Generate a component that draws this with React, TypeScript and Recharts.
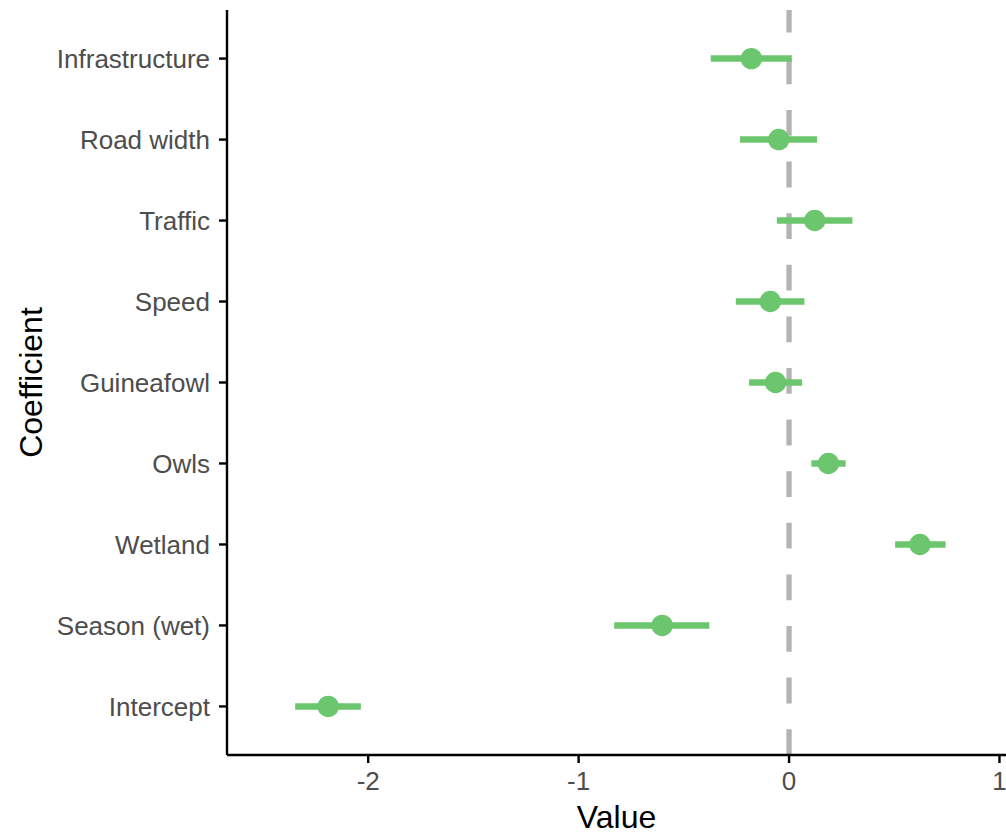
import React from 'react';
import { ScatterChart, Scatter, XAxis, YAxis, ErrorBar, ReferenceLine, Label } from 'recharts';

// Bottom-to-top order (as in the original factor order)
const coefficients = ['Intercept', 'Season (wet)', 'Wetland', 'Owls', 'Guineafowl', 'Speed', 'Traffic', 'Road width', 'Infrastructure'];
const estimates = [-2.19, -0.603, 0.622, 0.187, -0.064, -0.089, 0.122, -0.049, -0.179];
const lowerCI = [-2.347, -0.831, 0.504, 0.106, -0.19, -0.253, -0.058, -0.233, -0.372];
const upperCI = [-2.035, -0.379, 0.744, 0.269, 0.062, 0.073, 0.301, 0.133, 0.013];
const xTicks = [-2, -1, 0, 1];
const yTicks = coefficients.map((_, i) => i + 1);

const data = coefficients.map((name, i) => ({
  name,
  pos: i + 1,
  est: estimates[i],
  err: [estimates[i] - lowerCI[i], upperCI[i] - estimates[i]],
}));

const GREEN = '#6BC66E';
const TICK_COLOR = '#4D4D4D';

const Dot = (props: any) => {
  const { cx, cy } = props;
  if (cx == null || cy == null) return null;
  return <circle cx={cx} cy={cy} r={10.7} fill={GREEN} />;
};

const YTitle = (props: any) => {
  const vb = props.viewBox || {};
  const cy = vb.y + vb.height / 2;
  const x = 42;
  return (
    <text x={x} y={cy} transform={`rotate(-90, ${x}, ${cy})`} textAnchor="middle" fontSize={32} fill="#000">
      Coefficient
    </text>
  );
};

export default function App() {
  return (
    <div style={{ position: 'absolute', left: 0, top: 0, fontFamily: '"Liberation Sans", Arial, sans-serif', background: '#fff' }}>
      <ScatterChart width={1006} height={835} margin={{ top: 10, right: 0, bottom: 0, left: 0 }}>
        <XAxis
          type="number"
          dataKey="est"
          domain={[-2.671, 1.031]}
          allowDataOverflow
          ticks={xTicks}
          interval={0}
          height={80}
          tickSize={8}
          tickMargin={8.5}
          axisLine={{ stroke: '#000', strokeWidth: 2.4 }}
          tickLine={{ stroke: '#000', strokeWidth: 2.4 }}
          tick={{ fill: TICK_COLOR, fontSize: 26 }}
        >
          <Label value="Value" position="insideBottom" offset={7} fontSize={32} fill="#000" />
        </XAxis>
        <YAxis
          type="number"
          dataKey="pos"
          domain={[0.4, 9.6]}
          allowDataOverflow
          ticks={yTicks}
          interval={0}
          width={227}
          tickFormatter={(v: number) => coefficients[v - 1]}
          tickSize={8}
          tickMargin={9}
          axisLine={{ stroke: '#000', strokeWidth: 2.4 }}
          tickLine={{ stroke: '#000', strokeWidth: 2.4 }}
          tick={{ fill: TICK_COLOR, fontSize: 26 }}
        >
          <Label content={<YTitle />} />
        </YAxis>
        <ReferenceLine x={0} stroke="#B3B3B3" strokeWidth={5.3} strokeDasharray="25.8 25.8" zIndex={-1} />
        <Scatter data={data} dataKey="est" fill={GREEN} shape={<Dot />} isAnimationActive={false}>
          <ErrorBar dataKey="err" direction="x" width={0} stroke={GREEN} strokeWidth={6.5} isAnimationActive={false} />
        </Scatter>
      </ScatterChart>
    </div>
  );
}
